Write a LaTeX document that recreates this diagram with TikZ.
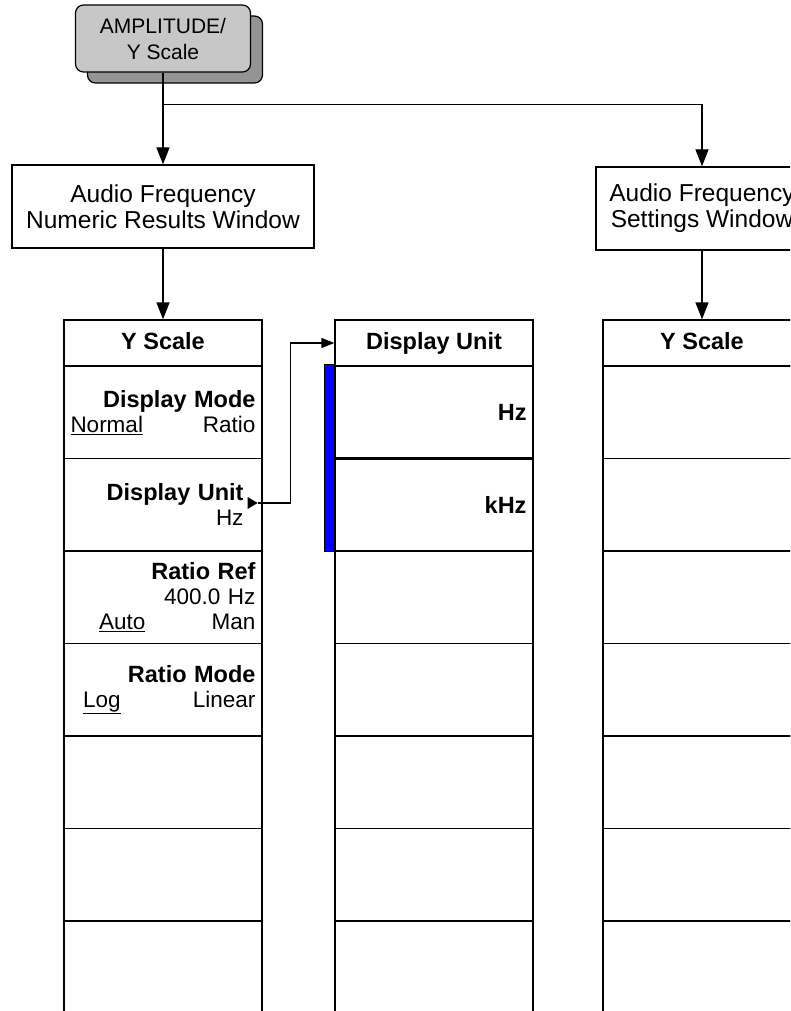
\documentclass[tikz,border=0pt]{standalone}
\usepackage{fontspec}
\setmainfont{Liberation Sans}
\usetikzlibrary{calc,arrows.meta}
\colorlet{keyGray}{black!22}
\colorlet{keyShade}{black!42}
\colorlet{barBlue}{blue}
\tikzset{
  win/.style={draw, line width=1.3pt, minimum height=83pt, align=center, inner sep=0pt, font=\fontsize{24.5}{26}\selectfont},
  head/.style={draw, line width=1.3pt, minimum width=198pt, minimum height=46pt, inner sep=0pt, text height=17pt, text depth=5pt, font=\fontsize{23.5}{25}\selectfont\bfseries},
  cell/.style={draw, line width=1.3pt, text width=185pt, inner xsep=6.5pt, inner ysep=0pt, minimum height=92.5pt, align=right},
  hardkey/.style={draw, line width=1.2pt, rounded corners=8pt, minimum width=175pt, minimum height=67pt, align=center, inner sep=0pt},
  link/.style={line width=1.3pt, -{Triangle[length=17pt,width=13pt]}},
  sublink/.style={line width=1.3pt, -{Triangle[length=13pt,width=10pt]}}
}
\newcommand{\bk}[1]{{\fontsize{23.5}{25}\selectfont\bfseries #1}}
\begin{document}
\begin{tikzpicture}[x=1pt, y=-1pt, every node/.style={font=\fontsize{22.5}{25}\selectfont}]
    \path[use as bounding box, clip] (0,0) rectangle (790,1011);
    % front panel key
    \node[hardkey, fill=keyShade] (ampshade) at (175,49.5) {};
    \node[hardkey, fill=keyGray, font=\fontsize{21}{26}\selectfont] (ampkey) at (163,38.5) {AMPLITUDE/\\Y Scale};
    % windows
    \node[win, minimum width=302pt] (numwin) at (163,206.5) {Audio Frequency\\Numeric Results Window};
    \node[win, minimum width=212pt] (setwin) at (702,208.5) {Audio Frequency\\Settings Window};
    \draw[link] (ampkey.south) -- (numwin.north);
    \draw[link] (ampkey.south) ++(0,32) -| (setwin.north);
    % menu headers
    \node[head] (lhead) at (163,343) {Y Scale};
    \node[head] (dhead) at (434,343) {Display Unit};
    \node[head] (rhead) at (702,343) {Y Scale};
    \draw[link] (numwin) -- (lhead);
    \draw[link] (setwin) -- (rhead);
    % Y Scale softkeys
    \node[cell] (yk1) at (163,412.25) {\bk{Display Mode}\\\underline{Normal}\hfill Ratio};
    \node[cell] (yk2) at (163,504.75) {\bk{Display Unit}\kern12pt\\Hz\kern12pt};
    \node[cell] (yk3) at (163,597.25) {\bk{Ratio Ref}\\400.0 Hz\\\hspace*{28.5pt}\underline{Auto}\hfill Man};
    \node[cell] (yk4) at (163,689.75) {\bk{Ratio Mode}\\\hspace*{12.5pt}\underline{Log}\hfill Linear};
    \foreach \r in {5,...,7} \node[cell] (yk\r) at (163,{366+92.5*(\r-0.5)}) {};
    % Display Unit softkeys
    \foreach \r in {3,...,7} \node[cell] (du\r) at (434,{366+92.5*(\r-0.5)}) {};
    \node[cell] (du2) at (434,504.75) {\bk{kHz}};
    \node[cell, line width=2.6pt] (du1) at (434,412.25) {\bk{Hz}};
    \filldraw[fill=barBlue, draw=black, line width=1.3pt] ($(du1.north west)+(-9,0)$) rectangle (du2.south west);
    % settings window softkeys
    \foreach \r in {1,...,7} \node[cell] (ys\r) at (702,{366+92.5*(\r-0.5)}) {};
    % submenu link
    \fill ($(yk2.east)+(-15,-7.75)$) -- ++(10,6) -- ++(-10,6) -- cycle;
    \draw[sublink] ($(yk2.east)+(-5,-1.75)$) -- ++(33,0) |- (dhead.west);
\end{tikzpicture}
\end{document}
